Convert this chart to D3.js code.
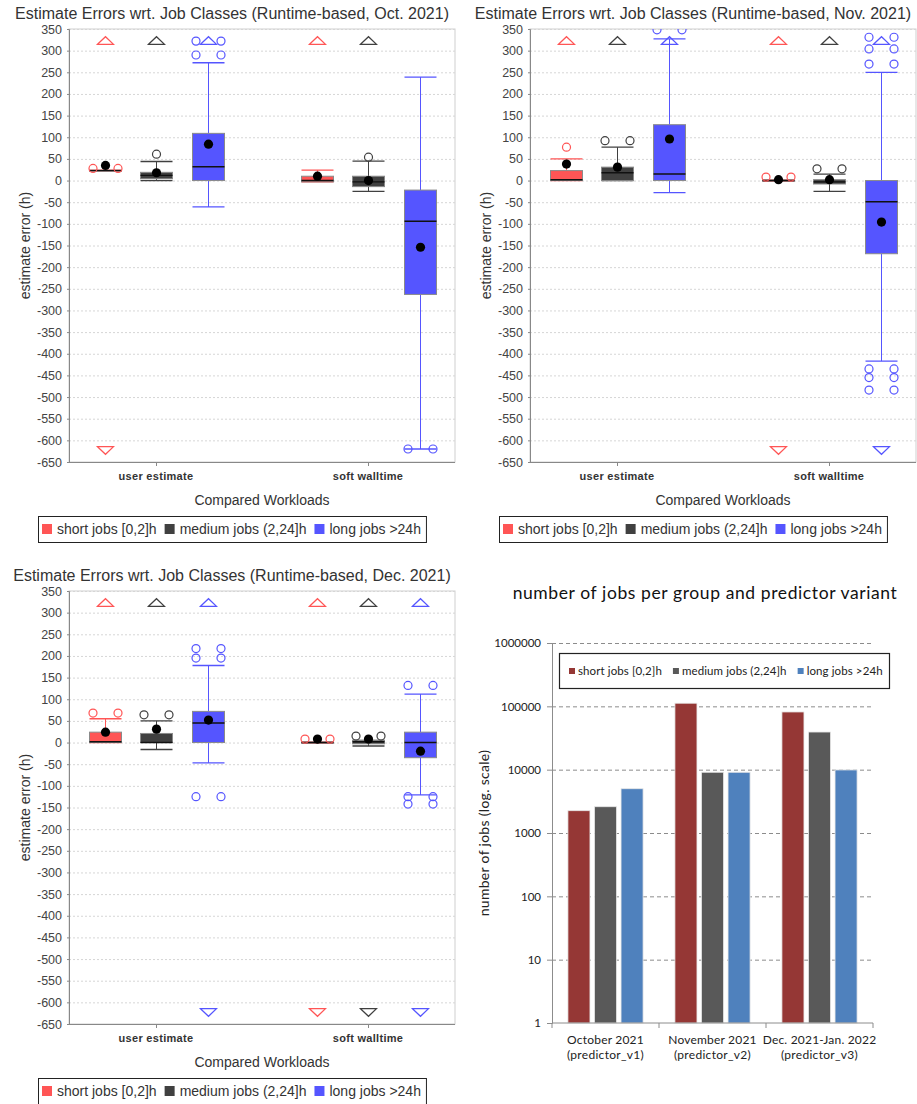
<!DOCTYPE html>
<html>

<style>
    body {
        margin: 0;
        background: #fff;
        font-family: "Liberation Sans", Arial, sans-serif;
        color: #333;
    }

    text { fill: #333; }

    .panelTitle { font-size: 16px; text-anchor: middle; }
    .tickLbl text { font-size: 12.5px; fill: #444; }
    .catLbl { font-size: 11px; font-weight: bold; text-anchor: middle; letter-spacing: 0.3px; }
    .axisTitle { font-size: 14px; text-anchor: middle; }
    .legendTxt { font-size: 14px; }

    .bar text { font-family: Lato, "Open Sans", sans-serif; }
</style>

<body>
    <svg id='viz' width='917' height='1104'></svg>

<script src="https://cdnjs.cloudflare.com/ajax/libs/d3/7.8.5/d3.min.js"></script>

<script>
    // ---- box plot data (hours) ----
    var workloads = ['user estimate', 'soft walltime'];
    var jobClasses = ['short jobs [0,2]h', 'medium jobs (2,24]h', 'long jobs >24h'];
    var classColors = ['#ff5555', '#404040', '#5555ff'];
    var errorTicks = [350, 300, 250, 200, 150, 100, 50, 0, -50, -100, -150, -200, -250, -300,
                      -350, -400, -450, -500, -550, -600, -650];

    // one row per (workload, job class): q1, median, q3, whisker lo/hi, mean,
    // single outliers, paired outliers, far-out markers
    var octStats = [
        {w: 0, c: 0, q1: 23, med: 23, q3: 24, lo: 23, hi: 24, mean: 35, single: [], pairs: [28], farHigh: true, farLow: true},
        {w: 0, c: 1, q1: 4, med: 12, q3: 19, lo: 0, hi: 44, mean: 18, single: [61], pairs: [], farHigh: true, farLow: false},
        {w: 0, c: 2, q1: 0, med: 32, q3: 109, lo: -61, hi: 272, mean: 84, single: [], pairs: [290, 322], farHigh: true, farLow: false},
        {w: 1, c: 0, q1: -3, med: 0, q3: 10, lo: -3, hi: 24, mean: 10, single: [], pairs: [], farHigh: true, farLow: false},
        {w: 1, c: 1, q1: -14, med: -3, q3: 10, lo: -25, hi: 45, mean: 0, single: [54], pairs: [], farHigh: true, farLow: false},
        {w: 1, c: 2, q1: -263, med: -94, q3: -22, lo: -620, hi: 239, mean: -154, single: [], pairs: [-620], farHigh: false, farLow: false}
    ];

    var novStats = [
        {w: 0, c: 0, q1: 0, med: 2, q3: 23, lo: 0, hi: 50, mean: 38, single: [77], pairs: [], farHigh: true, farLow: false},
        {w: 0, c: 1, q1: 0, med: 18, q3: 31, lo: 0, hi: 77, mean: 31, single: [], pairs: [92], farHigh: true, farLow: false},
        {w: 0, c: 2, q1: 0, med: 15, q3: 129, lo: -28, hi: 327, mean: 96, single: [], pairs: [348], farHigh: true, farLow: false},
        {w: 1, c: 0, q1: -1, med: 0, q3: 1, lo: -1, hi: 1, mean: 2, single: [], pairs: [8], farHigh: true, farLow: true},
        {w: 1, c: 1, q1: -8, med: -3, q3: 2, lo: -25, hi: 15, mean: 2, single: [], pairs: [27], farHigh: true, farLow: false},
        {w: 1, c: 2, q1: -169, med: -49, q3: 0, lo: -417, hi: 250, mean: -96, single: [], pairs: [269, 304, 331, -435, -455, -484], farHigh: true, farLow: true}
    ];

    var decStats = [
        {w: 0, c: 0, q1: 0, med: 2, q3: 24, lo: 0, hi: 55, mean: 24, single: [], pairs: [68], farHigh: true, farLow: false},
        {w: 0, c: 1, q1: 0, med: 0, q3: 21, lo: -16, hi: 50, mean: 31, single: [], pairs: [64], farHigh: true, farLow: false},
        {w: 0, c: 2, q1: 0, med: 45, q3: 72, lo: -47, hi: 178, mean: 52, single: [], pairs: [195, 217, -125], farHigh: true, farLow: true},
        {w: 1, c: 0, q1: -1, med: 0, q3: 1, lo: -1, hi: 1, mean: 8, single: [], pairs: [8], farHigh: true, farLow: true},
        {w: 1, c: 1, q1: -3, med: 2, q3: 5, lo: -8, hi: 5, mean: 8, single: [], pairs: [15], farHigh: true, farLow: true},
        {w: 1, c: 2, q1: -35, med: 0, q3: 24, lo: -121, hi: 112, mean: -20, single: [], pairs: [132, -125, -142], farHigh: true, farLow: true}
    ];

    // ---- bar chart data (number of jobs) ----
    var periods = ['October 2021', 'November 2021', 'Dec. 2021-Jan. 2022'];
    var predictors = ['(predictor_v1)', '(predictor_v2)', '(predictor_v3)'];
    var barClasses = ['short jobs [0,2]h', 'medium jobs (2,24]h', 'long jobs >24h'];
    var barColors = ['#953735', '#595959', '#4f81bd'];
    var shortJobs = [2250, 112000, 81500];
    var mediumJobs = [2600, 9100, 39300];
    var longJobs = [5000, 9100, 9900];
    var countTicks = [1, 10, 100, 1000, 10000, 100000, 1000000];

    var svg = d3.select('#viz');

    drawBoxPanel(0, 0, 'Estimate Errors wrt. Job Classes (Runtime-based, Oct. 2021)', octStats, 'c1');
    drawBoxPanel(461, 0, 'Estimate Errors wrt. Job Classes (Runtime-based, Nov. 2021)', novStats, 'c2');
    drawBoxPanel(0, 562, 'Estimate Errors wrt. Job Classes (Runtime-based, Dec. 2021)', decStats, 'c3');
    drawBarPanel();

    function drawBoxPanel(dx, dy, title, stats, clipId) {
        var left = 69, right = 455, top = 29, bottom = 462;
        var g = svg.append('g').attr('transform', 'translate(' + dx + ',' + dy + ')');

        var y = d3.scaleLinear().domain([-650, 350]).range([bottom, top]);
        var x = d3.scalePoint().domain(workloads).range([left, right]).padding(0.41).round(true);
        var xs = d3.scalePoint().domain(jobClasses).range([-51.5, 51.5]);
        var color = d3.scaleOrdinal().domain(jobClasses).range(classColors);
        var boxW = 32;

        g.append('text').attr('class', 'panelTitle')
            .attr('x', 232).attr('y', 19).text(title);

        g.append('clipPath').attr('id', clipId)
            .append('rect').attr('x', left).attr('y', top)
            .attr('width', right - left).attr('height', bottom - top);

        g.append('rect')
            .attr('x', left).attr('y', top)
            .attr('width', right - left).attr('height', bottom - top)
            .attr('fill', '#fff').attr('stroke', '#cfcfcf');

        g.append('g').selectAll('line')
            .data(errorTicks)
            .join('line')
            .attr('x1', left).attr('x2', right)
            .attr('y1', d => y(d) + 0.5).attr('y2', d => y(d) + 0.5)
            .attr('stroke', '#d6d6d6')
            .attr('stroke-dasharray', '2,2');

        var yAxis = g.append('g')
            .attr('class', 'tickLbl')
            .attr('transform', 'translate(' + left + ',0)')
            .call(d3.axisLeft(y).tickValues(errorTicks).tickSize(2).tickPadding(5).tickFormat(d => String(d)));
        yAxis.select('.domain').attr('stroke', '#888');
        yAxis.selectAll('.tick line').attr('stroke', '#888');

        g.append('line')
            .attr('x1', left).attr('x2', right)
            .attr('y1', bottom + 0.5).attr('y2', bottom + 0.5)
            .attr('stroke', '#888');

        g.selectAll('line.catTick')
            .data(workloads)
            .join('line')
            .attr('class', 'catTick')
            .attr('x1', d => x(d) + 0.5).attr('x2', d => x(d) + 0.5)
            .attr('y1', bottom).attr('y2', bottom + 4)
            .attr('stroke', '#888');

        g.selectAll('text.catLbl')
            .data(workloads)
            .join('text')
            .attr('class', 'catLbl')
            .attr('x', d => x(d)).attr('y', bottom + 18)
            .text(d => d);

        g.append('text').attr('class', 'axisTitle')
            .attr('x', (left + right) / 2).attr('y', 505)
            .text('Compared Workloads');

        g.append('text').attr('class', 'axisTitle')
            .attr('transform', 'translate(30,' + ((top + bottom) / 2) + ') rotate(-90)')
            .text('estimate error (h)');

        var plot = g.append('g').attr('clip-path', 'url(#' + clipId + ')');

        plot.selectAll('g.item')
            .data(stats)
            .join('g')
            .attr('class', 'item')
            .each(function(d) {
                var cx = Math.round(x(workloads[d.w]) + xs(jobClasses[d.c])) + 0.5;
                var col = color(jobClasses[d.c]);
                var s = d3.select(this);

                // whiskers
                s.append('line').attr('x1', cx).attr('x2', cx)
                    .attr('y1', y(d.hi)).attr('y2', y(d.q3)).attr('stroke', col);
                s.append('line').attr('x1', cx).attr('x2', cx)
                    .attr('y1', y(d.q1)).attr('y2', y(d.lo)).attr('stroke', col);
                s.selectAll('line.cap')
                    .data([d.hi, d.lo])
                    .join('line')
                    .attr('class', 'cap')
                    .attr('x1', cx - boxW / 2).attr('x2', cx + boxW / 2)
                    .attr('y1', v => y(v)).attr('y2', v => y(v))
                    .attr('stroke', col).attr('stroke-width', 1.3);

                // box
                s.append('rect')
                    .attr('x', cx - boxW / 2)
                    .attr('y', y(d.q3))
                    .attr('width', boxW)
                    .attr('height', Math.max(1, y(d.q1) - y(d.q3)))
                    .attr('fill', col)
                    .attr('stroke', '#8a8a8a');

                s.append('line')
                    .attr('x1', cx - boxW / 2).attr('x2', cx + boxW / 2)
                    .attr('y1', y(d.med)).attr('y2', y(d.med))
                    .attr('stroke', '#111').attr('stroke-width', 1.4);

                // outliers
                s.selectAll('circle.single')
                    .data(d.single)
                    .join('circle')
                    .attr('class', 'single')
                    .attr('cx', cx).attr('cy', v => y(v)).attr('r', 4)
                    .attr('fill', 'none').attr('stroke', col).attr('stroke-width', 1.2);

                var pairPts = [];
                d.pairs.forEach(function(v) {
                    pairPts.push({x: cx - 12.5, v: v});
                    pairPts.push({x: cx + 12.5, v: v});
                });
                s.selectAll('circle.pair')
                    .data(pairPts)
                    .join('circle')
                    .attr('class', 'pair')
                    .attr('cx', p => p.x).attr('cy', p => y(p.v)).attr('r', 4)
                    .attr('fill', 'none').attr('stroke', col).attr('stroke-width', 1.2);

                // far out markers
                if (d.farHigh) {
                    var ty = top + 11.5;
                    s.append('path')
                        .attr('d', 'M' + (cx - 8) + ',' + (ty + 3.8) + 'L' + cx + ',' + (ty - 3.8) + 'L' + (cx + 8) + ',' + (ty + 3.8) + 'Z')
                        .attr('fill', 'none').attr('stroke', col).attr('stroke-width', 1.2);
                }
                if (d.farLow) {
                    var by = bottom - 11.5;
                    s.append('path')
                        .attr('d', 'M' + (cx - 8) + ',' + (by - 3.8) + 'L' + cx + ',' + (by + 3.8) + 'L' + (cx + 8) + ',' + (by - 3.8) + 'Z')
                        .attr('fill', 'none').attr('stroke', col).attr('stroke-width', 1.2);
                }

                // mean
                s.append('circle')
                    .attr('cx', cx).attr('cy', y(d.mean)).attr('r', 4.6)
                    .attr('fill', '#000');
            });

        // legend
        var lg = g.append('g');
        var frame = lg.append('rect')
            .attr('y', 516.5).attr('height', 26)
            .attr('fill', '#fff').attr('stroke', '#222');
        var xPos = 40;
        jobClasses.forEach(function(c, i) {
            lg.append('rect')
                .attr('x', xPos).attr('y', 524)
                .attr('width', 10).attr('height', 10)
                .attr('fill', classColors[i]);
            var t = lg.append('text').attr('class', 'legendTxt')
                .attr('x', xPos + 15).attr('y', 534).text(c);
            xPos += 15 + t.node().getComputedTextLength() + 8;
        });
        var lgW = xPos - 8 + 5 - 36;
        frame.attr('x', 36.5).attr('width', lgW);
        lg.attr('transform', 'translate(' + Math.round(232 - (36 + lgW / 2)) + ',0)');
    }

    function drawBarPanel() {
        var left = 552, right = 873, top = 643, bottom = 1023;
        var g = svg.append('g').attr('class', 'bar');

        var y = d3.scaleLog().domain([1, 1000000]).range([bottom, top]);
        var x0 = d3.scaleBand().domain(periods).range([left, right]);
        var x1 = d3.scaleBand().domain(barClasses).range([0, x0.bandwidth()])
            .paddingInner(0.17).paddingOuter(0.6);
        var values = [shortJobs, mediumJobs, longJobs];

        g.append('text')
            .attr('x', 705).attr('y', 599)
            .attr('text-anchor', 'middle')
            .style('font-size', '17.5px')
            .style('letter-spacing', '0.6px')
            .style('fill', '#111')
            .text('number of jobs per group and predictor variant');

        g.append('g').selectAll('line')
            .data(countTicks.slice(1))
            .join('line')
            .attr('x1', left).attr('x2', right)
            .attr('y1', d => y(d) + 0.5).attr('y2', d => y(d) + 0.5)
            .attr('stroke', '#8c8c8c')
            .attr('stroke-dasharray', '4,3');

        // bars
        periods.forEach(function(p, pi) {
            g.append('g').selectAll('rect')
                .data(barClasses)
                .join('rect')
                .attr('x', c => x0(p) + x1(c))
                .attr('y', (c, ci) => y(values[ci][pi]))
                .attr('width', x1.bandwidth())
                .attr('height', (c, ci) => bottom - y(values[ci][pi]))
                .attr('fill', (c, ci) => barColors[ci])
                .attr('stroke', '#e8e8e8')
                .attr('stroke-width', 0.8);
        });

        var yAxis = g.append('g')
            .attr('transform', 'translate(' + left + ',0)')
            .call(d3.axisLeft(y).tickValues(countTicks).tickSize(5).tickPadding(6).tickFormat(d => String(d)));
        yAxis.select('.domain').attr('stroke', '#8c8c8c');
        yAxis.selectAll('.tick line').attr('stroke', '#8c8c8c');
        yAxis.selectAll('.tick text').style('font-size', '11.5px').style('fill', '#222')
            .style('font-family', 'Lato, sans-serif');

        g.append('line')
            .attr('x1', left).attr('x2', right)
            .attr('y1', bottom).attr('y2', bottom)
            .attr('stroke', '#8c8c8c');

        g.selectAll('line.bnd')
            .data([left, x0(periods[1]), x0(periods[2]), right])
            .join('line')
            .attr('class', 'bnd')
            .attr('x1', d => d).attr('x2', d => d)
            .attr('y1', bottom).attr('y2', bottom + 5)
            .attr('stroke', '#8c8c8c');

        g.selectAll('text.per')
            .data(periods)
            .join('text')
            .attr('class', 'per')
            .attr('x', d => x0(d) + x0.bandwidth() / 2)
            .attr('y', 1044)
            .attr('text-anchor', 'middle')
            .style('font-size', '12px')
            .style('letter-spacing', '0.2px')
            .style('fill', '#222')
            .text(d => d);

        g.selectAll('text.pred')
            .data(predictors)
            .join('text')
            .attr('class', 'pred')
            .attr('x', (d, i) => x0(periods[i]) + x0.bandwidth() / 2)
            .attr('y', 1059)
            .attr('text-anchor', 'middle')
            .style('font-size', '12px')
            .style('letter-spacing', '0.3px')
            .style('fill', '#222')
            .text(d => d);

        g.append('text')
            .attr('transform', 'translate(489,' + ((top + bottom) / 2) + ') rotate(-90)')
            .attr('text-anchor', 'middle')
            .style('font-size', '14px')
            .style('letter-spacing', '0.3px')
            .style('fill', '#222')
            .text('number of jobs (log. scale)');

        // legend
        var lg = g.append('g');
        lg.append('rect')
            .attr('x', 559.5).attr('y', 653.5)
            .attr('width', 330).attr('height', 35)
            .attr('fill', '#fff').attr('stroke', '#222').attr('stroke-width', 1.2);
        var xPos = 569;
        barClasses.forEach(function(c, i) {
            lg.append('rect')
                .attr('x', xPos).attr('y', 668)
                .attr('width', 6).attr('height', 6)
                .attr('fill', barColors[i]);
            var t = lg.append('text')
                .attr('x', xPos + 9).attr('y', 675)
                .style('font-size', '11.5px')
                .style('letter-spacing', '0.1px')
                .style('fill', '#222')
                .text(c);
            xPos += 9 + t.node().getComputedTextLength() + 11;
        });
    }
</script>
</body>
</html>
